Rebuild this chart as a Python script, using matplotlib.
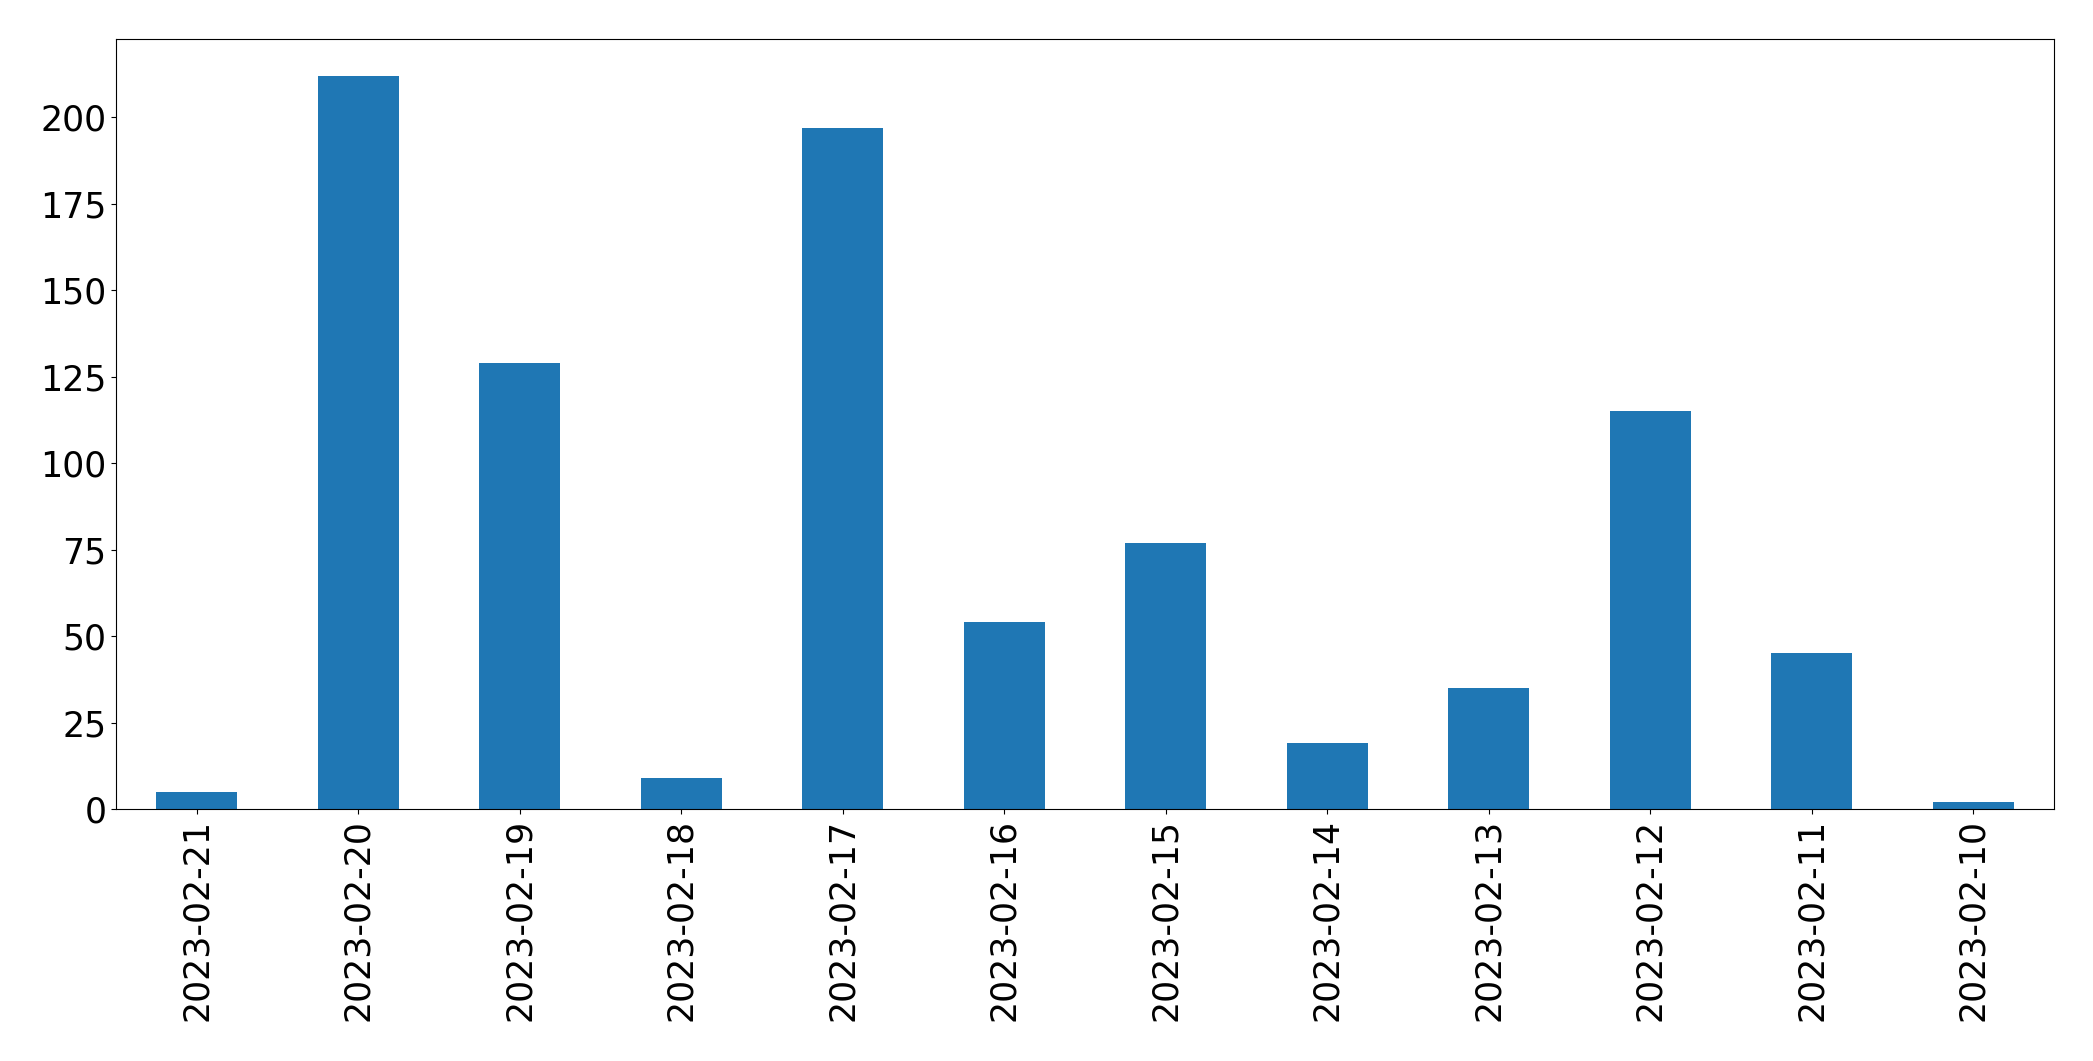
import matplotlib
matplotlib.use("Agg")
import matplotlib.pyplot as plt

dates = ["2023-02-21", "2023-02-20", "2023-02-19", "2023-02-18", "2023-02-17", "2023-02-16",
         "2023-02-15", "2023-02-14", "2023-02-13", "2023-02-12", "2023-02-11", "2023-02-10"]
counts = [5, 212, 129, 9, 197, 54, 77, 19, 35, 115, 45, 2]

fig = plt.figure(figsize=(20.93, 10.61), dpi=100)
ax = fig.add_axes([116/2093, 1 - 809/1061, (2054-116)/2093, (809-39.3)/1061])
x = list(range(len(dates)))
ax.bar(x, counts, width=0.5, color="#1f77b4")
ax.set_xlim(-0.5, len(dates) - 0.5)
ax.set_ylim(0, max(counts) * 1.05)
ax.set_xticks(x)
ax.set_xticklabels(dates, rotation=90)
ax.set_yticks([0, 25, 50, 75, 100, 125, 150, 175, 200])
ax.tick_params(labelsize=25)
fig.savefig("out.png", dpi=100)
